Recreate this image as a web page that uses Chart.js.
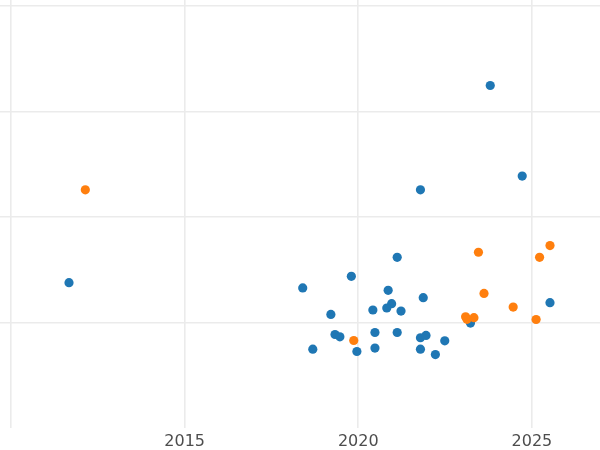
<!DOCTYPE html>
<html>
<head>
<meta charset="utf-8">
<script src="https://cdn.jsdelivr.net/npm/chart.js@4/dist/chart.umd.min.js"></script>
<style>
  html, body { margin: 0; padding: 0; background: #ffffff; }
  #wrap { width: 600px; height: 450px; }
</style>
</head>
<body>
<div id="wrap"><canvas id="c" width="600" height="450"></canvas></div>
<script>
// Series A (blue): year and value
const blueX = [2011.67, 2023.80, 2024.72, 2021.79, 2021.12, 2019.80, 2018.40, 2020.86, 2025.52, 2021.87,
               2020.96, 2020.42, 2020.82, 2021.23, 2019.21, 2023.23, 2019.33, 2019.47, 2020.48, 2021.12,
               2021.79, 2021.95, 2022.49, 2018.69, 2019.96, 2020.48, 2021.79, 2022.22];
const blueY = [137.7, 324.5, 238.7, 225.7, 161.7, 143.7, 132.7, 130.4, 118.7, 123.5,
               117.8, 111.8, 113.7, 110.8, 107.6, 99.4, 88.6, 86.4, 90.5, 90.5,
               85.5, 87.7, 82.6, 74.7, 72.5, 75.7, 74.7, 69.6];
// Series B (orange)
const orangeX = [2012.14, 2023.46, 2025.52, 2025.22, 2023.62, 2024.46, 2023.09, 2023.13, 2023.33, 2025.12, 2019.87];
const orangeY = [225.7, 166.5, 172.8, 161.7, 127.5, 114.6, 105.4, 103.0, 104.5, 102.8, 82.9];

const xTicks = [2010, 2015, 2020, 2025];
const xHiddenLabels = [2010];
const yTicks = [100, 200, 300, 400];

const toPts = (xs, ys) => xs.map((x, i) => ({ x: x, y: ys[i] }));

new Chart(document.getElementById('c'), {
  type: 'scatter',
  data: {
    datasets: [
      {
        label: 'B',
        data: toPts(orangeX, orangeY),
        backgroundColor: '#ff7f0e',
        borderWidth: 0,
        pointRadius: 4.6,
        pointHoverRadius: 4.6,
        order: 0
      },
      {
        label: 'A',
        data: toPts(blueX, blueY),
        backgroundColor: '#1f77b4',
        borderWidth: 0,
        pointRadius: 4.6,
        pointHoverRadius: 4.6,
        order: 1
      }
    ]
  },
  options: {
    responsive: false,
    animation: false,
    devicePixelRatio: 1,
    layout: { padding: 0, autoPadding: false },
    plugins: { legend: { display: false }, tooltip: { enabled: false } },
    scales: {
      x: {
        type: 'linear',
        min: 2009.683,
        max: 2026.96,
        afterBuildTicks: (s) => { s.ticks = xTicks.map(v => ({ value: v })); },
        afterFit: (s) => { s.height = 22; },
        grid: { color: '#ebebeb', lineWidth: 1.6, drawTicks: false },
        border: { display: false },
        ticks: {
          padding: 4,
          maxRotation: 0,
          autoSkip: false,
          color: '#4d4d4d',
          font: { family: 'DejaVu Sans', size: 16 },
          callback: (v) => xHiddenLabels.includes(v) ? '' : String(v)
        }
      },
      y: {
        type: 'linear',
        min: 0,
        max: 405.5,
        afterBuildTicks: (s) => { s.ticks = yTicks.map(v => ({ value: v })); },
        afterFit: (s) => { s.width = 0; },
        grid: { color: '#ebebeb', lineWidth: 1.6, drawTicks: false },
        border: { display: false },
        ticks: { display: false }
      }
    }
  }
});
</script>
</body>
</html>
